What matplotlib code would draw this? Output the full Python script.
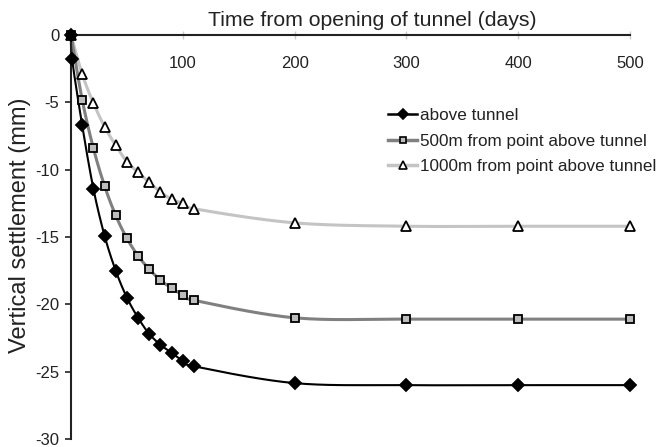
import numpy as np
import matplotlib
matplotlib.use('Agg')
import matplotlib.pyplot as plt

plt.rcParams['font.family'] = ['Liberation Sans', 'DejaVu Sans']
plt.rcParams['axes.unicode_minus'] = False

# settlement readings (mm) against days since the tunnel opened
days_above = [0, 1, 10, 20, 30, 40, 50, 60, 70, 80, 90, 100, 110, 200, 300, 400, 500]
above = [0, -1.8, -6.7, -11.4, -14.9, -17.5, -19.5, -21.0, -22.2, -23.0, -23.6, -24.2, -24.6,
         -25.85, -26.0, -26.0, -26.0]

days = [0, 10, 20, 30, 40, 50, 60, 70, 80, 90, 100, 110, 200, 300, 400, 500]
m500 = [0, -4.8, -8.4, -11.2, -13.4, -15.1, -16.4, -17.4, -18.2, -18.8, -19.3, -19.7,
        -21.0, -21.1, -21.1, -21.1]
m1000 = [0, -2.9, -5.05, -6.8, -8.2, -9.4, -10.2, -10.95, -11.65, -12.2, -12.5, -12.9,
         -13.95, -14.2, -14.2, -14.2]

labels = ['above tunnel', '500m from point above tunnel', '1000m from point above tunnel']
x_ticks = [100, 200, 300, 400, 500]
y_ticks = [0, -5, -10, -15, -20, -25, -30]


def smooth(x, y, n=30):
    # bezier segments with catmull-rom style control points
    p = np.column_stack([x, y]).astype(float)
    p = np.vstack([p[0], p, p[-1]])
    out = []
    for i in range(1, len(p) - 2):
        p0, p1, p2, p3 = p[i - 1], p[i], p[i + 1], p[i + 2]
        c1 = p1 + (p2 - p0) / 6
        c2 = p2 - (p3 - p1) / 6
        t = np.linspace(0, 1, n)[:, None]
        seg = ((1 - t) ** 3) * p1 + 3 * ((1 - t) ** 2) * t * c1 + 3 * (1 - t) * t ** 2 * c2 + t ** 3 * p2
        out.append(seg)
    s = np.vstack(out)
    return s[:, 0], s[:, 1]


fig = plt.figure(figsize=(6.56, 4.47), dpi=100)
ax = fig.add_axes([71 / 656, 1 - 439 / 447, 559 / 656, 404 / 447])

series = [
    (days, m1000, '#c4c4c4', 2.2, '^', 7, 'white'),
    (days, m500, '#808080', 2.2, 's', 6, '#bdbdbd'),
    (days_above, above, 'black', 1.5, 'D', 6.5, 'black'),
]
handles = []
for d, v, col, lw, mk, ms, mfc in series:
    sx, sy = smooth(d, v)
    ax.plot(sx, sy, color=col, lw=lw, clip_on=False, zorder=2)
    ax.plot(d, v, ls='none', marker=mk, ms=ms, mfc=mfc, mec='black', mew=1.3,
            clip_on=False, zorder=3)
    h, = ax.plot([], [], color=col, lw=lw + 0.3, marker=mk, ms=ms * 0.8, mfc=mfc, mec='black', mew=1.2)
    handles.append(h)

ax.set_xlim(0, 500)
ax.set_ylim(-30, 0)
ax.spines['bottom'].set_position(('data', 0))
ax.spines['top'].set_visible(False)
ax.spines['right'].set_visible(False)
for s in ['bottom', 'left']:
    ax.spines[s].set_linewidth(1.5)
    ax.spines[s].set_color('#222222')

ax.set_xticks(x_ticks)
ax.set_xticklabels([str(t) for t in x_ticks])
ax.set_yticks(y_ticks)
ax.set_yticklabels([str(t) for t in y_ticks])
ax.tick_params(axis='x', direction='inout', length=6, width=1, color='#cccccc',
               labelsize=12, pad=12, labelcolor='#222222')
ax.tick_params(axis='y', direction='out', length=4, width=1.2, color='#222222',
               labelsize=12, pad=4.5, labelcolor='#222222')

ax.set_xlabel('Time from opening of tunnel (days)', fontsize=15.3, color='#222222')
ax.xaxis.set_label_position('top')
ax.xaxis.set_label_coords(0.539, 1.022)
ax.set_ylabel('Vertical settlement (mm)', fontsize=17, color='#222222')
ax.yaxis.set_label_coords(-0.072, 0.528)

ax.legend(handles[::-1], labels, loc='upper left', bbox_to_anchor=(388 / 656, 1 - 108 / 447),
          bbox_transform=fig.transFigure, frameon=False, fontsize=12.3, borderpad=0,
          borderaxespad=0, handlelength=1.7, handletextpad=0.15, labelspacing=0.62,
          labelcolor='#222222')

fig.savefig('out.png', dpi=100)
